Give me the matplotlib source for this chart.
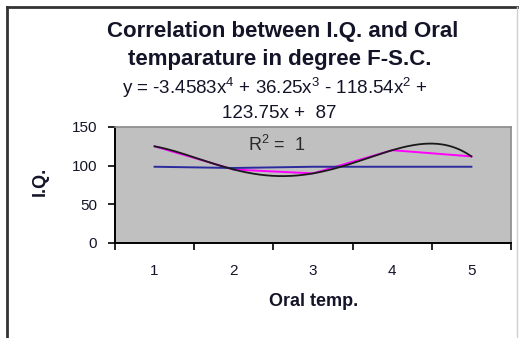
import numpy as np
import matplotlib
matplotlib.use("Agg")
import matplotlib.pyplot as plt
from matplotlib.lines import Line2D

plt.rcParams['font.family'] = ['Liberation Sans', 'DejaVu Sans']
plt.rcParams['mathtext.fontset'] = 'custom'
plt.rcParams['mathtext.rm'] = 'Liberation Sans'
plt.rcParams['mathtext.it'] = 'Liberation Sans'

# data
temp_pos = [1, 2, 3, 4, 5]
iq_values = [125, 95, 90, 120, 112]
oral_temp_f = [98.6, 97.0, 98.6, 98.6, 98.6]
y_ticks = [0, 50, 100, 150]

txt = '#141428'

fig = plt.figure(figsize=(5.22, 3.38), dpi=100)
ax = fig.add_axes([115/522, 1-243/338, 396/522, 116/338])
ax.set_facecolor('#c0c0c0')

ax.plot(temp_pos, iq_values, color='#ff00ff', lw=1.4)
ax.plot(temp_pos, oral_temp_f, color='#2b2b9e', lw=1.4)

# 4th order polynomial trendline
coef = np.polyfit(temp_pos, iq_values, 4)
xs = np.linspace(1, 5, 200)
ax.plot(xs, np.polyval(coef, xs), color='#1a1a1a', lw=1.3)

ax.set_xlim(0.5, 5.5)
ax.set_ylim(0, 150)
ax.set_yticks(y_ticks)
ax.set_xticks(np.arange(0.5, 6, 1))
ax.set_xticklabels([])
ax.set_xticks(temp_pos, minor=True)
ax.set_xticklabels([str(v) for v in temp_pos], minor=True)
ax.tick_params(axis='x', which='major', direction='out', length=5, width=1.2, color='black')
ax.tick_params(axis='x', which='minor', length=0, pad=15, labelsize=11, labelcolor=txt)
ax.tick_params(axis='y', direction='out', length=5, width=1.2, pad=8, labelsize=11, labelcolor=txt)

for s in ['top', 'right']:
    ax.spines[s].set_color('#8a8a8a')
    ax.spines[s].set_linewidth(1.2)
for s in ['left', 'bottom']:
    ax.spines[s].set_color('black')
    ax.spines[s].set_linewidth(1.4)

fig.text(40/522, 1-181/338, 'I.Q.', rotation=90, ha='center', va='center',
         fontsize=13, fontweight='bold', color=txt)
fig.text(314/522, 1-301/338, 'Oral temp.', ha='center', va='center',
         fontsize=13, fontweight='bold', color=txt)

fig.text(283/522, 1-31/338, 'Correlation between I.Q. and Oral', ha='center', va='center',
         fontsize=16, fontweight='bold', color=txt)
fig.text(280/522, 1-59/338, 'temparature in degree F-S.C.', ha='center', va='center',
         fontsize=16, fontweight='bold', color=txt)
fig.text(275/522, 1-88/338, r'y = -3.4583x$^{4}$ + 36.25x$^{3}$ - 118.54x$^{2}$ +',
         ha='center', va='center', fontsize=13.5, color=txt)
fig.text(279/522, 1-113/338, '123.75x +  87', ha='center', va='center',
         fontsize=13.5, color=txt)
fig.text(277/522, 1-145/338, r'R$^{2}$ =  1', ha='center', va='center',
         fontsize=13, color='#2a2a2a')

# chart frame
fig.add_artist(Line2D([7/522, 7/522], [0, 1-7/338], color='#333333', lw=2))
fig.add_artist(Line2D([7/522, 517/522], [1-7/338, 1-7/338], color='#333333', lw=2))
fig.add_artist(Line2D([517/522, 517/522], [0, 1-7/338], color='#d0d0d0', lw=1))

fig.savefig('out.png', dpi=100)
